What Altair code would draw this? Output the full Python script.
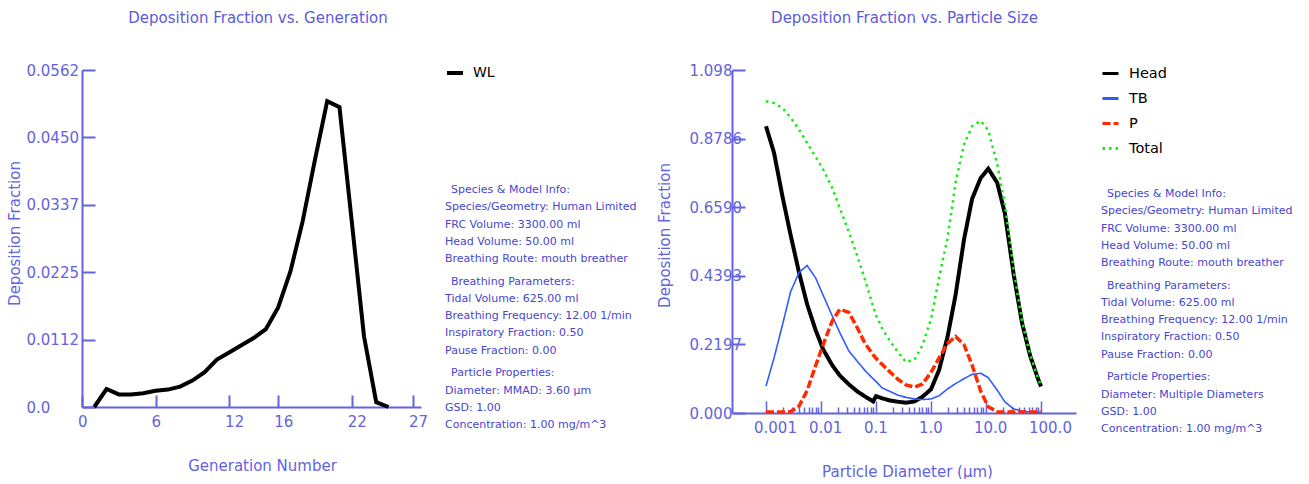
import altair as alt
import pandas as pd

# ---------------- data ----------------
generation = list(range(1, 26))
wl_fraction = [0.0, 0.0030, 0.0021, 0.0021, 0.0023, 0.0027, 0.0029, 0.0034, 0.0044,
               0.0058, 0.0079, 0.0091, 0.0103, 0.0115, 0.0130, 0.0166, 0.0226, 0.0310,
               0.0412, 0.0510, 0.0500, 0.0310, 0.0118, 0.0008, 0.0]

diameter_um = [0.001, 0.0014, 0.002, 0.0028, 0.004, 0.0056, 0.008, 0.011, 0.016, 0.022,
               0.032, 0.045, 0.063, 0.089, 0.1, 0.13, 0.18, 0.25, 0.35, 0.5,
               0.7, 1.0, 1.4, 2.0, 2.8, 4.0, 5.6, 8.0, 11.0, 16.0,
               22.0, 32.0, 45.0, 63.0, 89.0, 100.0]
head = [0.918, 0.833, 0.692, 0.570, 0.449, 0.348, 0.265, 0.203, 0.153, 0.120,
        0.092, 0.070, 0.053, 0.037, 0.054, 0.047, 0.040, 0.036, 0.033, 0.037,
        0.052, 0.076, 0.137, 0.244, 0.378, 0.557, 0.686, 0.752, 0.782, 0.737,
        0.640, 0.442, 0.290, 0.185, 0.108, 0.085]
tb = [0.086, 0.176, 0.283, 0.388, 0.450, 0.472, 0.432, 0.376, 0.311, 0.257,
      0.199, 0.167, 0.136, 0.109, 0.101, 0.080, 0.069, 0.057, 0.050, 0.045,
      0.043, 0.045, 0.055, 0.077, 0.094, 0.110, 0.124, 0.127, 0.113, 0.073,
      0.036, 0.013, 0.006, 0.003, 0.002, 0.002]
pul = [0.003, 0.003, 0.003, 0.004, 0.022, 0.072, 0.152, 0.220, 0.294, 0.332,
       0.322, 0.275, 0.223, 0.186, 0.175, 0.155, 0.131, 0.108, 0.090, 0.083,
       0.093, 0.130, 0.176, 0.222, 0.245, 0.218, 0.153, 0.070, 0.020, 0.004,
       0.003, 0.003, 0.003, 0.003, 0.003, 0.003]
total = [0.998, 0.992, 0.976, 0.946, 0.907, 0.864, 0.820, 0.779, 0.721, 0.656,
         0.580, 0.506, 0.428, 0.340, 0.313, 0.270, 0.230, 0.195, 0.163, 0.170,
         0.217, 0.300, 0.432, 0.560, 0.738, 0.860, 0.918, 0.935, 0.905, 0.797,
         0.668, 0.455, 0.296, 0.188, 0.110, 0.087]

series_names = ["Head", "TB", "P", "Total"]

gen_x_ticks = [0, 6, 12, 16, 22, 27]
gen_y_ticks = [0, 0.0112, 0.0225, 0.0337, 0.0450, 0.0562]
gen_y_labels = ["0.0", "0.0112", "0.0225", "0.0337", "0.0450", "0.0562"]
size_y_ticks = [0, 0.2197, 0.4393, 0.6590, 0.8786, 1.098]
size_y_labels = ["0.000", "0.2197", "0.4393", "0.6590", "0.8786", "1.098"]
size_x_major = [0.001, 0.01, 0.1, 1, 10, 100]
size_x_labels = ["0.001", "0.01", "0.1", "1.0", "10.0", "100.0"]

chart_titles = ["Deposition Fraction vs. Generation", "Deposition Fraction vs. Particle Size"]
x_titles = ["Generation Number", "Particle Diameter (µm)"]
y_title = "Deposition Fraction"

model_info = ["Species & Model Info:", "Species/Geometry: Human Limited",
              "FRC Volume: 3300.00 ml", "Head Volume: 50.00 ml",
              "Breathing Route: mouth breather"]
breathing_info = ["Breathing Parameters:", "Tidal Volume: 625.00 ml",
                  "Breathing Frequency: 12.00 1/min", "Inspiratory Fraction: 0.50",
                  "Pause Fraction: 0.00"]
particle_info_gen = ["Particle Properties:", "Diameter: MMAD: 3.60 µm",
                     "GSD: 1.00", "Concentration: 1.00 mg/m^3"]
particle_info_size = ["Particle Properties:", "Diameter: Multiple Diameters",
                      "GSD: 1.00", "Concentration: 1.00 mg/m^3"]

# ---------------- styles ----------------
F = "DejaVu Sans"
AXIS_BLUE = "#6363de"
TITLE_BLUE = "#5b5bd9"
INFO_BLUE = "#4646cf"
series_colors = ["#000000", "#2f5cff", "#ff2a00", "#11ee11"]
series_dashes = [[1, 0], [1, 0], [8, 3], [2.5, 4]]

W1, H1 = 339, 337
W2, H2 = 344, 343


def label_expr(values, labels):
    expr = "''"
    for v, lab in reversed(list(zip(values, labels))):
        expr = f"datum.value == {v} ? '{lab}' : ({expr})"
    return expr


def info_frame(sections, x0, y0, indent=6, step=17.25, gap=22.7):
    rows = []
    y = y0
    for si, sec in enumerate(sections):
        if si > 0:
            y += gap - step
        for j, line in enumerate(sec):
            rows.append({"text": line, "px": x0 + (indent if j == 0 else 0), "py": y})
            y += step
    return pd.DataFrame(rows)


def text_layer(df, size, color):
    return alt.Chart(df).mark_text(
        font=F, fontSize=size, color=color, align="left", baseline="middle"
    ).encode(
        x=alt.X("px:Q", scale=None),
        y=alt.Y("py:Q", scale=None),
        text="text:N",
    )


def title_layer(text, px, py):
    df = pd.DataFrame({"text": [text], "px": [px], "py": [py]})
    return alt.Chart(df).mark_text(
        font=F, fontSize=15, color=TITLE_BLUE, align="center", baseline="middle"
    ).encode(
        x=alt.X("px:Q", scale=None),
        y=alt.Y("py:Q", scale=None),
        text="text:N",
    )


common_axis = dict(
    ticks=False, grid=True, gridColor=AXIS_BLUE, gridOpacity=1,
    domainColor=AXIS_BLUE, domainWidth=2,
    labelColor=AXIS_BLUE, labelFont=F, labelFontSize=15,
    labelFlush=False, labelOverlap=False,
    titleColor=AXIS_BLUE, titleFont=F, titleFontSize=15, titleFontWeight="normal",
)

# ---------------- left panel ----------------
gen_df = pd.DataFrame({"generation": generation, "fraction": wl_fraction, "wl_series": "WL"})

left_line = alt.Chart(gen_df).mark_line(strokeWidth=4, strokeCap="butt").encode(
    x=alt.X(
        "generation:Q",
        scale=alt.Scale(domain=[0, 27.65], nice=False, zero=False),
        axis=alt.Axis(
            values=gen_x_ticks, format="d", title=x_titles[0],
            gridWidth=2, gridDash=[0, H1 - 12, 12, 0],
            labelAlign="left", labelOffset=-4.5, labelPadding=7, labelBaseline="top",
            titleX=180, titleY=58, titleAlign="center", titleBaseline="middle",
            **common_axis,
        ),
    ),
    y=alt.Y(
        "fraction:Q",
        scale=alt.Scale(domain=[0, 0.0562], nice=False),
        axis=alt.Axis(
            values=gen_y_ticks, labelExpr=label_expr(gen_y_ticks, gen_y_labels),
            title=y_title, gridWidth=2, gridDash=[13, 4000],
            labelAlign="left", labelPadding=56,
            titleX=-68, titleY=163, titleAngle=270, titleAlign="center",
            titleBaseline="middle",
            **common_axis,
        ),
    ),
    color=alt.Color(
        "wl_series:N",
        scale=alt.Scale(domain=["WL"], range=["#000000"]),
        legend=alt.Legend(
            title=None, orient="none", legendX=363, legendY=-7, padding=0,
            labelFont=F, labelFontSize=14, labelColor="#000000", labelOffset=8,
            symbolType="stroke", symbolSize=256, symbolStrokeWidth=4,
        ),
    ),
)

left = alt.layer(
    left_line,
    title_layer(chart_titles[0], 176, -52),
    text_layer(info_frame([model_info, breathing_info, particle_info_gen], 363, 120), 11, INFO_BLUE),
).properties(width=W1, height=H1)

# ---------------- right panel ----------------
size_df = pd.concat([
    pd.DataFrame({"diameter": diameter_um, "fraction": vals, "series": name})
    for name, vals in zip(series_names, [head, tb, pul, total])
], ignore_index=True)

minor_ticks = []
for e in range(-3, 2):
    for m in range(1, 10):
        minor_ticks.append(float(f"{m}e{e}"))
minor_ticks.append(100.0)

major_test = "indexof([0.001, 0.01, 0.1, 1, 10, 100], datum.value) >= 0"

size_legend = alt.Legend(
    title=None, orient="none", legendX=369, legendY=-6, padding=0,
    labelFont=F, labelFontSize=14.5, labelColor="#000000", labelOffset=9,
    rowPadding=9, symbolType="stroke", symbolSize=256, symbolStrokeWidth=3,
)

right_line = alt.Chart(size_df).mark_line(strokeCap="butt").encode(
    x=alt.X(
        "diameter:Q",
        scale=alt.Scale(type="log", domain=[0.000241, 433], nice=False),
        axis=alt.Axis(
            values=minor_ticks, labelExpr=label_expr(size_x_major, size_x_labels),
            title=x_titles[1], gridWidth=1.5,
            gridDash=alt.condition(major_test, alt.value([0, H2 - 12, 12, 0]),
                                   alt.value([0, H2 - 6, 6, 0])),
            labelAlign="left", labelOffset=-12.5, labelPadding=7, labelBaseline="top",
            titleX=175, titleY=58, titleAlign="center", titleBaseline="middle",
            **common_axis,
        ),
    ),
    y=alt.Y(
        "fraction:Q",
        scale=alt.Scale(domain=[0, 1.098], nice=False),
        axis=alt.Axis(
            values=size_y_ticks, labelExpr=label_expr(size_y_ticks, size_y_labels),
            title=y_title, gridWidth=2, gridDash=[13, 4000],
            labelAlign="left", labelPadding=43,
            titleX=-68, titleY=165, titleAngle=270, titleAlign="center",
            titleBaseline="middle",
            **common_axis,
        ),
    ),
    color=alt.Color("series:N", scale=alt.Scale(domain=series_names, range=series_colors),
                    legend=size_legend),
    strokeDash=alt.StrokeDash("series:N", scale=alt.Scale(domain=series_names, range=series_dashes),
                              legend=size_legend),
    strokeWidth=alt.StrokeWidthValue(4, condition=[
        {"test": "datum.series === 'TB'", "value": 1.6},
        {"test": "datum.series === 'P'", "value": 3.5},
        {"test": "datum.series === 'Total'", "value": 2.5},
    ]),
)

right = alt.layer(
    right_line,
    title_layer(chart_titles[1], 172.5, -52),
    text_layer(info_frame([model_info, breathing_info, particle_info_size], 369, 124), 11, INFO_BLUE),
).properties(width=W2, height=H2)

chart = alt.hconcat(left, right, spacing=311, bounds="flush").resolve_scale(
    color="independent", strokeDash="independent"
).resolve_legend(
    color="independent", strokeDash="independent"
).properties(
    padding={"left": 7, "top": 11, "right": 2, "bottom": 0}
).configure_view(stroke=None)

chart.save("out.html", embed_options={"renderer": "svg", "actions": False})
